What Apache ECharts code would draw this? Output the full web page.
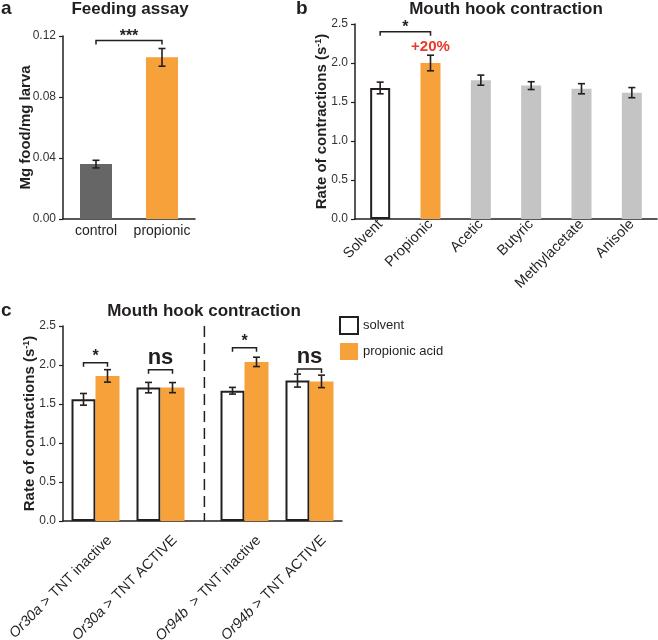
<!DOCTYPE html>
<html><head><meta charset="utf-8">
<script src="https://cdn.jsdelivr.net/npm/echarts@6/dist/echarts.min.js"></script>
<style>html,body{margin:0;padding:0;background:#fff}#c{width:658px;height:640px}</style>
</head><body><div id="c"></div>
<script>
// ---------- data ----------
const categoriesA = ['control', 'propionic'];
const valuesA = [0.036, 0.106];
const errorsA = [0.0025, 0.0058];
const ticksA = [0, 0.04, 0.08, 0.12];

const categoriesB = ['Solvent', 'Propionic', 'Acetic', 'Butyric', 'Methylacetate', 'Anisole'];
const valuesB = [1.68, 2.00, 1.78, 1.71, 1.67, 1.62];
const errorsB = [0.075, 0.10, 0.065, 0.05, 0.065, 0.065];
const ticksB = [0, 0.5, 1.0, 1.5, 2.0, 2.5];

const categoriesC = ['Or30a > TNT inactive', 'Or30a > TNT ACTIVE', 'Or94b  > TNT inactive', 'Or94b > TNT ACTIVE'];
const solventC = [1.56, 1.71, 1.67, 1.80];
const solventErrC = [0.075, 0.067, 0.043, 0.083];
const propionicC = [1.86, 1.71, 2.04, 1.79];
const propionicErrC = [0.08, 0.065, 0.06, 0.08];
const ticksC = [0, 0.5, 1.0, 1.5, 2.0, 2.5];
const seriesNamesC = ['solvent', 'propionic acid'];

const bracketA = [[0, 1, 0.117]];
const bracketLabelsA = ['***'];
const bracketB = [[0, 1, 2.40]];
const bracketLabelsB = ['*'];
const bracketLevelsC = [2.03, 1.94, 2.22, 1.95];
const bracketLabelsC = ['*', 'ns', '*', 'ns'];
const annotationB = '+20%';

// ---------- styles ----------
const FONT = '"Liberation Sans", Arial, Helvetica, sans-serif';
const INK = '#231f20';
const ORANGE = '#f7a13a';
const GRAY = '#c4c4c4';
const DARK = '#666666';
const RED = '#e8392b';
const BAR_C = 24;
const C_LEFT = 63, C_W = 130, C_GAP = 19, C_TOP = 326, C_H = 195;

const chart = echarts.init(document.getElementById('c'), null, {renderer: 'canvas'});

function axisLineStyle() { return {lineStyle: {color: INK, width: 1.5}}; }
function yAxisCommon(grid, ticks, dec, name, gap) {
  return {
    gridIndex: grid, type: 'value', min: ticks[0], max: ticks[ticks.length - 1],
    interval: ticks[1] - ticks[0],
    axisLine: {show: true, lineStyle: {color: INK, width: 1.5}},
    axisTick: {show: true, length: 4, lineStyle: {color: INK, width: 1.2}},
    axisLabel: {fontSize: 12, color: '#333', fontFamily: FONT, margin: 7,
      formatter: v => v.toFixed(dec)},
    splitLine: {show: false},
    name: name, nameLocation: 'middle', nameGap: gap, nameMoveOverlap: false,
    nameTextStyle: {fontSize: 15, fontWeight: 'bold', color: INK, fontFamily: FONT,
      rich: {
        t: {fontSize: 15, fontWeight: 'bold', color: INK, fontFamily: FONT},
        s: {fontSize: 9, fontWeight: 'bold', color: INK, fontFamily: FONT, verticalAlign: 'top'}
      }}
  };
}
const rateName = '{t|Rate of contractions (s}{s|-1}{t|)}';

function errRender(offset) {
  return function (params, api) {
    const i = api.value(0), m = api.value(1), e = api.value(2);
    const lo = api.coord([i, m - e]), hi = api.coord([i, m + e]);
    const x = lo[0] + offset;
    const st = {stroke: INK, lineWidth: 1.6};
    return {type: 'group', children: [
      {type: 'line', shape: {x1: x, y1: lo[1], x2: x, y2: hi[1]}, style: st},
      {type: 'line', shape: {x1: x - 3.5, y1: lo[1], x2: x + 3.5, y2: lo[1]}, style: st},
      {type: 'line', shape: {x1: x - 3.5, y1: hi[1], x2: x + 3.5, y2: hi[1]}, style: st}
    ]};
  };
}
function labelEl(x, y, text, big) {
  return {type: 'text', x: x, y: y, style: {text: text, fill: INK, fontFamily: FONT,
    fontSize: big ? 22 : 16, fontWeight: 'bold', align: 'center', verticalAlign: 'middle'}};
}
function bracketSpan(labels, gap) {
  return function (params, api) {
    const a = api.coord([api.value(0), api.value(2)]);
    const b = api.coord([api.value(1), api.value(2)]);
    const y = a[1];
    return {type: 'group', children: [
      {type: 'polyline', shape: {points: [[a[0], y + 4], [a[0], y], [b[0], y], [b[0], y + 4]]},
        style: {stroke: INK, lineWidth: 1.5, fill: 'none'}},
      labelEl((a[0] + b[0]) / 2, y - gap, labels[params.dataIndex], false)
    ]};
  };
}
function bracketGroup(labels, offsetIndex) {
  return function (params, api) {
    const c = api.coord([api.value(0), api.value(1)]);
    const x1 = c[0] - BAR_C / 2, x2 = c[0] + BAR_C / 2, y = c[1];
    const lab = labels[params.dataIndex + offsetIndex];
    const big = lab === 'ns';
    return {type: 'group', children: [
      {type: 'polyline', shape: {points: [[x1, y + 4], [x1, y], [x2, y], [x2, y + 4]]},
        style: {stroke: INK, lineWidth: 1.5, fill: 'none'}},
      labelEl((x1 + x2) / 2, y - (big ? 12 : 6), lab, big)
    ]};
  };
}

const colorsA = [DARK, ORANGE];
const barDataA = valuesA.map((v, i) => ({value: v, itemStyle: {color: colorsA[i]}}));
const barDataB = valuesB.map((v, i) => {
  if (i === 0) return {value: v, itemStyle: {color: '#fff', borderColor: INK, borderWidth: 2}};
  if (i === 1) return {value: v, itemStyle: {color: ORANGE},
    label: {show: true, position: 'top', distance: 9, formatter: annotationB, color: RED,
      fontWeight: 'bold', fontSize: 15, fontFamily: FONT}};
  return {value: v, itemStyle: {color: GRAY}};
});

const cSlices = [[0, 2], [2, 4]];
const xLabC = {
  rotate: 45, interval: 0, fontSize: 14.5, color: INK, fontFamily: FONT, margin: 3,
  padding: [40, 0, 0, 0],
  formatter: v => v.replace(/^(Or\d+\w)/, '{i|$1}'),
  rich: {i: {fontStyle: 'italic', fontSize: 14.5, color: INK, fontFamily: FONT}}
};

const series = [
  {type: 'bar', xAxisIndex: 0, yAxisIndex: 0, data: barDataA, barWidth: 32, z: 2},
  {type: 'custom', xAxisIndex: 0, yAxisIndex: 0, z: 3, renderItem: errRender(0),
    data: valuesA.map((v, i) => [i, v, errorsA[i]])},
  {type: 'custom', xAxisIndex: 0, yAxisIndex: 0, z: 3, renderItem: bracketSpan(bracketLabelsA, 4),
    data: bracketA},
  {type: 'bar', xAxisIndex: 1, yAxisIndex: 1, data: barDataB, barWidth: 20, z: 2},
  {type: 'custom', xAxisIndex: 1, yAxisIndex: 1, z: 3, renderItem: errRender(0),
    data: valuesB.map((v, i) => [i, v, errorsB[i]])},
  {type: 'custom', xAxisIndex: 1, yAxisIndex: 1, z: 3, renderItem: bracketSpan(bracketLabelsB, 4),
    data: bracketB}
];
cSlices.forEach((sl, k) => {
  const ax = 2 + k;
  series.push({type: 'bar', name: seriesNamesC[0], xAxisIndex: ax, yAxisIndex: ax, barWidth: BAR_C, barGap: '0%',
    itemStyle: {color: '#fff', borderColor: INK, borderWidth: 2}, data: solventC.slice(sl[0], sl[1])});
  series.push({type: 'bar', name: seriesNamesC[1], xAxisIndex: ax, yAxisIndex: ax, barWidth: BAR_C, barGap: '0%',
    itemStyle: {color: ORANGE}, data: propionicC.slice(sl[0], sl[1])});
  series.push({type: 'custom', xAxisIndex: ax, yAxisIndex: ax, z: 3, renderItem: errRender(-BAR_C / 2),
    data: solventC.slice(sl[0], sl[1]).map((v, i) => [i, v, solventErrC[sl[0] + i]])});
  series.push({type: 'custom', xAxisIndex: ax, yAxisIndex: ax, z: 3, renderItem: errRender(BAR_C / 2),
    data: propionicC.slice(sl[0], sl[1]).map((v, i) => [i, v, propionicErrC[sl[0] + i]])});
  series.push({type: 'custom', xAxisIndex: ax, yAxisIndex: ax, z: 3, renderItem: bracketGroup(bracketLabelsC, sl[0]),
    data: bracketLevelsC.slice(sl[0], sl[1]).map((v, i) => [i, v])});
});

const G = {outerBoundsMode: 'none', containLabel: false};
const option = {
  animation: false,
  backgroundColor: '#fff',
  textStyle: {fontFamily: FONT},
  grid: [
    Object.assign({left: 63, top: 36, width: 132, height: 183}, G),
    Object.assign({left: 355, top: 24, width: 302, height: 195}, G),
    Object.assign({left: C_LEFT, top: C_TOP, width: C_W, height: C_H}, G),
    Object.assign({left: C_LEFT + C_W + C_GAP, top: C_TOP, width: C_W, height: C_H}, G),
    Object.assign({left: C_LEFT, top: C_TOP, width: 2 * C_W + C_GAP, height: C_H}, G)
  ],
  legend: {
    data: seriesNamesC, orient: 'vertical', left: 334, top: 311, itemWidth: 18, itemHeight: 17,
    itemGap: 8, icon: 'rect', textStyle: {fontSize: 13, color: INK, fontFamily: FONT, padding: [0, 0, 0, 0]}
  },
  xAxis: [
    {gridIndex: 0, type: 'category', data: categoriesA, axisLine: axisLineStyle(),
      axisTick: {length: 4, lineStyle: {color: INK, width: 1.2}},
      axisLabel: {interval: 0, fontSize: 14, color: INK, fontFamily: FONT, margin: 5}},
    {gridIndex: 1, type: 'category', data: categoriesB, axisLine: axisLineStyle(),
      axisTick: {length: 4, lineStyle: {color: INK, width: 1.2}},
      axisLabel: {rotate: 45, interval: 0, fontSize: 14.5, color: INK, fontFamily: FONT, margin: 3, padding: [10, 0, 0, 0]}},
    {gridIndex: 2, type: 'category', data: categoriesC.slice(0, 2), axisLine: {show: false},
      axisTick: {length: 4, lineStyle: {color: INK, width: 1.2}}, axisLabel: xLabC},
    {gridIndex: 3, type: 'category', data: categoriesC.slice(2, 4), axisLine: {show: false},
      axisTick: {length: 4, lineStyle: {color: INK, width: 1.2}}, axisLabel: xLabC},
    {gridIndex: 4, type: 'value', min: 0, max: 1, axisLine: axisLineStyle(),
      axisTick: {show: false}, axisLabel: {show: false}, splitLine: {show: false}}
  ],
  yAxis: [
    yAxisCommon(0, ticksA, 2, 'Mg food/mg larva', 30),
    yAxisCommon(1, ticksB, 1, rateName, 26),
    yAxisCommon(2, ticksC, 1, rateName, 26),
    {gridIndex: 3, type: 'value', min: 0, max: 2.5, show: false},
    {gridIndex: 4, type: 'value', min: 0, max: 1, show: false}
  ],
  series: series
};
chart.setOption(option);

const yTop = chart.convertToPixel({yAxisIndex: 2}, ticksC[ticksC.length - 1]);
const yBot = chart.convertToPixel({yAxisIndex: 2}, 0);
const dashX = C_LEFT + C_W + C_GAP * 0.6;
function title(x, y, text, size, align) {
  return {type: 'text', x: x, y: y, style: {text: text, fill: INK, fontFamily: FONT, fontSize: size,
    fontWeight: 'bold', align: align, verticalAlign: 'middle'}};
}
chart.setOption({graphic: [
  title(1, 9, 'a', 19, 'left'),
  title(130, 9, 'Feeding assay', 17, 'center'),
  title(296, 9, 'b', 19, 'left'),
  title(506, 9, 'Mouth hook contraction', 17, 'center'),
  title(1, 311, 'c', 19, 'left'),
  title(204, 311, 'Mouth hook contraction', 17, 'center'),
  {type: 'line', shape: {x1: dashX, y1: yTop, x2: dashX, y2: yBot},
    style: {stroke: INK, lineWidth: 1.5, lineDash: [11, 6]}}
]});
</script></body></html>
